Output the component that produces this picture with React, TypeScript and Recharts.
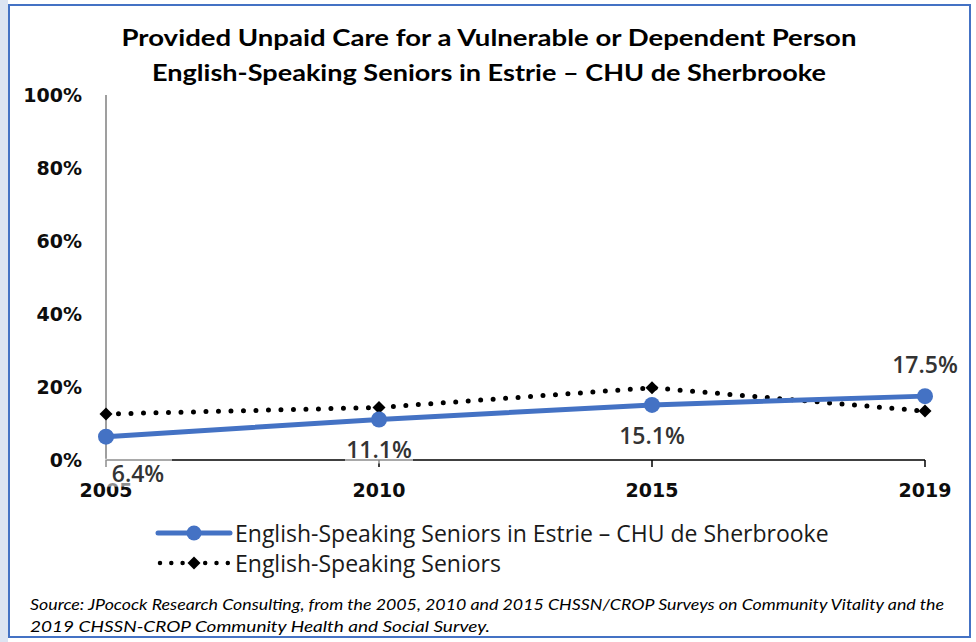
import React from 'react';
import { LineChart, Line, XAxis, YAxis, LabelList } from 'recharts';

const years = ['2005', '2010', '2015', '2019'];
const estrieValues = [6.4, 11.1, 15.1, 17.5];
const seniorsValues = [12.6, 14.4, 19.8, 13.4];
const yTicks = [0, 20, 40, 60, 80, 100];
const titleLines = [
  'Provided Unpaid Care for a Vulnerable or Dependent Person',
  'English-Speaking Seniors in Estrie \u2013 CHU de Sherbrooke',
];
const seriesNames = ['English-Speaking Seniors in Estrie \u2013 CHU de Sherbrooke', 'English-Speaking Seniors'];
const sourceLines = [
  'Source: JPocock Research Consulting, from the 2005, 2010  and 2015  CHSSN/CROP Surveys on Community Vitality and the',
  '2019  CHSSN-CROP Community Health and Social Survey.',
];

const data = years.map((year, i) => ({ year, estrie: estrieValues[i], seniors: seniorsValues[i] }));

const BLUE = '#4472C4';
const tickFont = { fontFamily: 'DejaVu Sans', fontWeight: 700, fontSize: 19, fill: '#0d0d0d' };

const Diamond = (props: any) => {
  const { cx, cy, index } = props;
  if (cx == null || cy == null) return null;
  const s = 6.5;
  return (
    <polygon
      key={`d-${index}`}
      points={`${cx},${cy - s} ${cx + s},${cy} ${cx},${cy + s} ${cx - s},${cy}`}
      fill="#000"
    />
  );
};

const EstrieLabel = (props: any) => {
  const { x, y, value, index } = props;
  const above = index === years.length - 1;
  const dx = index === 0 ? 32 : 0;
  const cy = above ? y - 32 : y + (index === 0 ? 36 : 30);
  const cx = x + dx;
  return (
    <g>
      <rect x={cx - 34} y={cy - 14} width={68} height={28} fill="#fff" fillOpacity={0.55} />
      <text
        x={cx}
        y={cy}
        textAnchor="middle"
        dominantBaseline="central"
        fontFamily="Open Sans"
        fontWeight={600}
        fontSize={23}
        fill="#333333"
      >
        {`${Number(value).toFixed(1)}%`}
      </text>
    </g>
  );
};

export default function App() {
  return (
    <div style={{ position: 'absolute', left: 0, top: 0, width: 976, height: 642, background: '#fff' }}>
      <LineChart
        width={976}
        height={642}
        data={data}
        margin={{ top: 95, right: 51, left: 0, bottom: 132 }}
      >
        <rect x={0} y={0} width={8} height={642} fill="#dce4f2" />
        <rect x={9} y={5} width={961} height={632} fill="none" stroke={BLUE} strokeWidth={2} />
        <text x={489} y={37} textAnchor="middle" dominantBaseline="central" fontFamily="Lato" fontWeight={700} fontSize={23} fill="#000" textLength={735} lengthAdjust="spacingAndGlyphs">
          {titleLines[0]}
        </text>
        <text x={489} y={72} textAnchor="middle" dominantBaseline="central" fontFamily="Lato" fontWeight={700} fontSize={23} fill="#000" textLength={674} lengthAdjust="spacingAndGlyphs">
          {titleLines[1]}
        </text>
        <XAxis
          dataKey="year"
          interval={0}
          height={50}
          axisLine={{ stroke: '#000', strokeWidth: 1.5 }}
          tickLine={{ stroke: '#000', strokeWidth: 1.5 }}
          tickSize={7}
          tickMargin={17}
          tick={tickFont}
        />
        <YAxis
          domain={[0, 100]}
          ticks={yTicks}
          width={106}
          tickFormatter={(v: number) => `${v}%`}
          axisLine={{ stroke: '#7f7f7f', strokeWidth: 1.5 }}
          tickLine={false}
          tickSize={0}
          tickMargin={24}
          tick={tickFont}
        />
        <Line
          dataKey="seniors"
          name={seriesNames[1]}
          stroke="#000"
          strokeWidth={5}
          strokeDasharray="0 12.5"
          strokeLinecap="round"
          dot={<Diamond />}
          activeDot={false}
          isAnimationActive={false}
        />
        <Line
          dataKey="estrie"
          name={seriesNames[0]}
          stroke={BLUE}
          strokeWidth={5}
          strokeLinecap="round"
          dot={{ r: 8, fill: BLUE, stroke: 'none' }}
          activeDot={false}
          isAnimationActive={false}
        >
          <LabelList dataKey="estrie" content={<EstrieLabel />} />
        </Line>
        <g>
          <line x1={158} y1={533} x2={230} y2={533} stroke={BLUE} strokeWidth={5} strokeLinecap="round" />
          <circle cx={194} cy={533} r={7.5} fill={BLUE} />
          <text x={235} y={533} dominantBaseline="central" fontFamily="Open Sans" fontSize={23} fill="#1a1a1a">
            {seriesNames[0]}
          </text>
          <line x1={160} y1={563} x2={228} y2={563} stroke="#000" strokeWidth={4.5} strokeDasharray="0 11.3" strokeLinecap="round" />
          <polygon points="194,556.5 200.5,563 194,569.5 187.5,563" fill="#000" />
          <text x={235} y={563} dominantBaseline="central" fontFamily="Open Sans" fontSize={23} fill="#1a1a1a">
            {seriesNames[1]}
          </text>
        </g>
        <text x={30} y={603} dominantBaseline="central" fontFamily="Lato" fontStyle="italic" fontSize={16} fill="#000" textLength={914} lengthAdjust="spacingAndGlyphs">
          {sourceLines[0]}
        </text>
        <text x={30} y={625} dominantBaseline="central" fontFamily="Lato" fontStyle="italic" fontSize={16} fill="#000" textLength={460} lengthAdjust="spacingAndGlyphs">
          {sourceLines[1]}
        </text>
      </LineChart>
    </div>
  );
}
